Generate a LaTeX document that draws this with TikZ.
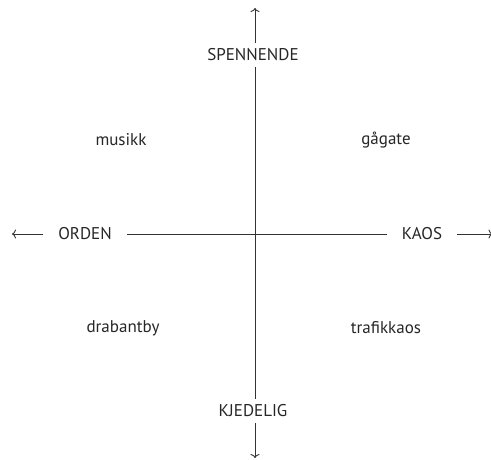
\documentclass[tikz,border=0pt]{standalone}
\usepackage{fontspec}
\setmainfont{PT Sans}
\usetikzlibrary{positioning, arrows.meta}

\begin{document}
\begin{tikzpicture}
		[x=1pt, y=-1pt,
		 axis/.style = {draw=black!80, line width=0.9pt},
		 tip/.style = {-{To[length=4pt, width=9pt]}},
		 pole/.style = {inner xsep=15pt, inner ysep=6pt, font=\fontsize{17}{20}\selectfont, text=black!85},
		 word/.style = {font=\fontsize{17}{20}\selectfont, text=black!85}]
		\useasboundingbox (0,0) rectangle (491,459);
		\node[pole] (spenn) at (253,55) {SPENNENDE};
		\node[pole] (kjed) at (253,411) {KJEDELIG};
		\node[pole] (orden) at (85,234) {ORDEN};
		\node[pole] (kaos) at (422,234) {KAOS};
		\coordinate (top) at (255,8);
		\coordinate (bottom) at (255,458);
		\coordinate (left) at (12,234);
		\coordinate (right) at (492.5,234);
		\node[word] (musikk) at (121,140) {musikk};
		\node[word] (gagate) at (386,140) {gågate};
		\node[word] (drabant) at (123,328) {drabantby};
		\node[word] (trafikk) at (386,328) {trafikkaos};

		\draw[axis, tip] (spenn.north -| top) -- (top);
		\draw[axis] (spenn.south -| top) -- (kjed.north -| top);
		\draw[axis, tip] (kjed.south -| top) -- (bottom);
		\draw[axis, tip] (orden) -- (left);
		\draw[axis] (orden) -- (kaos);
		\draw[axis, tip] (kaos) -- (right);
	\end{tikzpicture}
\end{document}
